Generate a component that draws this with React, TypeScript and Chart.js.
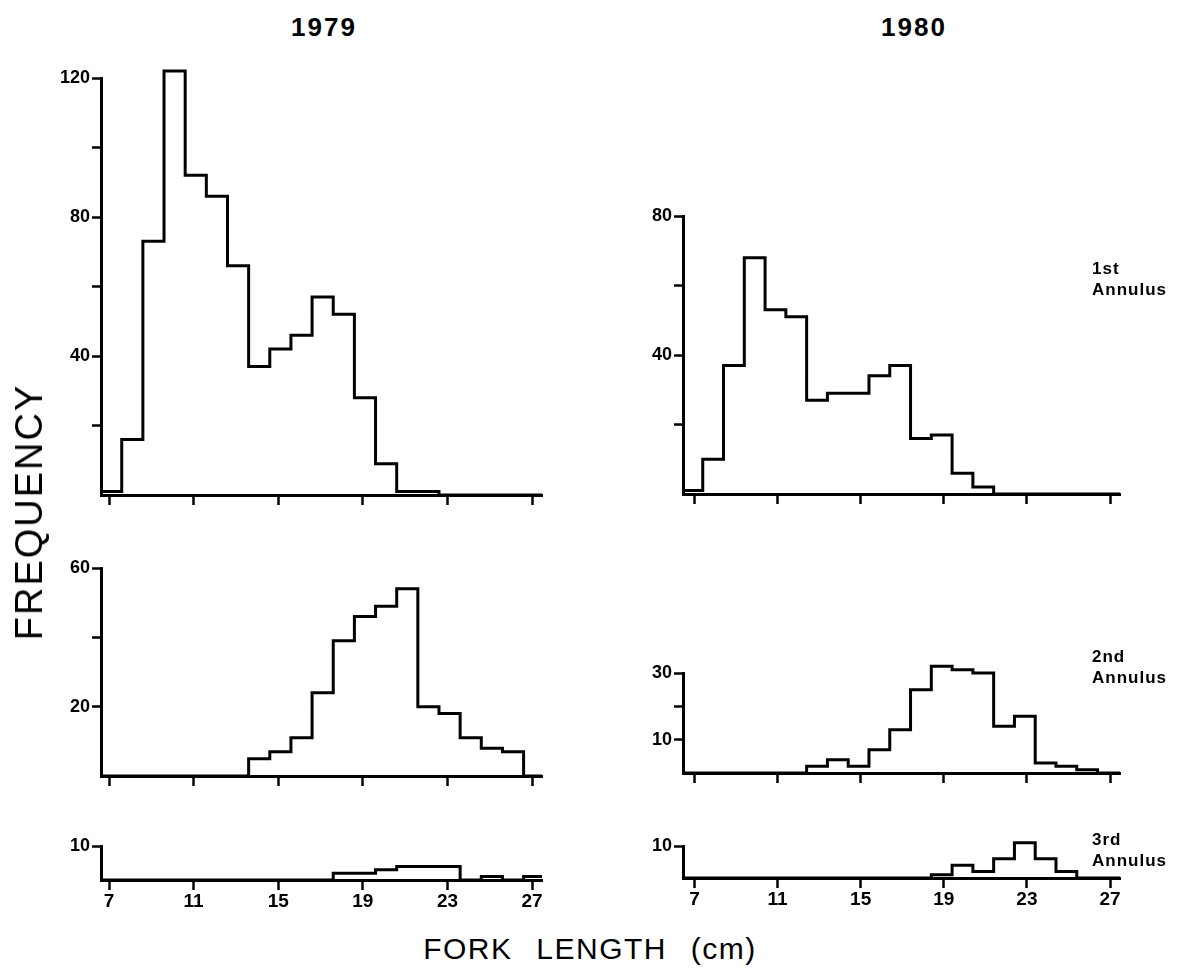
import React, { useEffect, useRef } from "react";
import { Chart, registerables } from "chart.js";

Chart.register(...registerables);

const FONT = "'Liberation Sans', Arial, Helvetica, sans-serif";

// Lower edges of the 1-cm fork-length classes (cm)
const BINS_1979 = [6.6, 7.6, 8.6, 9.6, 10.6, 11.6, 12.6, 13.6, 14.6, 15.6, 16.6, 17.6, 18.6, 19.6, 20.6, 21.6, 22.6, 23.6, 24.6, 25.6, 26.6];
const BINS_1980 = [6.4, 7.4, 8.4, 9.4, 10.4, 11.4, 12.4, 13.4, 14.4, 15.4, 16.4, 17.4, 18.4, 19.4, 20.4, 21.4, 22.4, 23.4, 24.4, 25.4, 26.4];

// Frequencies per class, by year and annulus count
const FREQ_1979_1ST = [1, 16, 73, 122, 92, 86, 66, 37, 42, 46, 57, 52, 28, 9, 1, 1, 0, 0, 0, 0, 0];
const FREQ_1979_2ND = [0, 0, 0, 0, 0, 0, 0, 5, 7, 11, 24, 39, 46, 49, 54, 20, 18, 11, 8, 7, 0];
const FREQ_1979_3RD = [0, 0, 0, 0, 0, 0, 0, 0, 0, 0, 0, 2, 2, 3, 4, 4, 4, 0, 1, 0, 1];
const FREQ_1980_1ST = [1, 10, 37, 68, 53, 51, 27, 29, 29, 34, 37, 16, 17, 6, 2, 0, 0, 0, 0, 0, 0];
const FREQ_1980_2ND = [0, 0, 0, 0, 0, 0, 2, 4, 2, 7, 13, 25, 32, 31, 30, 14, 17, 3, 2, 1, 0];
const FREQ_1980_3RD = [0, 0, 0, 0, 0, 0, 0, 0, 0, 0, 0, 0, 1, 4, 2, 6, 11, 6, 2, 0, 0];

// Axis ticks
const X_TICKS = [7, 11, 15, 19, 23, 27];
const Y_TICKS_1979_1ST = [20, 40, 60, 80, 100, 120];
const Y_LABELS_1979_1ST = [40, 80, 120];
const Y_TICKS_1979_2ND = [20, 40, 60];
const Y_LABELS_1979_2ND = [20, 60];
const Y_TICKS_3RD = [10];
const Y_LABELS_3RD = [10];
const Y_TICKS_1980_1ST = [20, 40, 60, 80];
const Y_LABELS_1980_1ST = [40, 80];
const Y_TICKS_1980_2ND = [10, 20, 30];
const Y_LABELS_1980_2ND = [10, 30];

const YEARS = ["1979", "1980"];
const ANNULUS_LABELS = [
  ["1st", "Annulus"],
  ["2nd", "Annulus"],
  ["3rd", "Annulus"],
];

// Panel frame geometry (page pixels)
const Y_AXIS_W = 64;
const X_AXIS_H = 34;
const PAD_T = 14;
const PAD_R = 6;

type PanelSpec = {
  left: number;
  right: number;
  top: number;
  bottom: number;
  xMin: number;
  xMax: number;
  yMax: number;
  yTicks: number[];
  yLabels: number[];
  showXLabels: boolean;
  edges: number[];
  values: number[];
};

const LEFT_COL = { left: 101, right: 542, xMin: 6.62, xMax: 27.47 };
const RIGHT_COL = { left: 682.5, right: 1120, xMin: 6.45, xMax: 27.48 };

const PANELS: PanelSpec[] = [
  { ...LEFT_COL, top: 78, bottom: 495, yMax: 120, yTicks: Y_TICKS_1979_1ST, yLabels: Y_LABELS_1979_1ST, showXLabels: false, edges: BINS_1979, values: FREQ_1979_1ST },
  { ...LEFT_COL, top: 568, bottom: 776, yMax: 60, yTicks: Y_TICKS_1979_2ND, yLabels: Y_LABELS_1979_2ND, showXLabels: false, edges: BINS_1979, values: FREQ_1979_2ND },
  { ...LEFT_COL, top: 846, bottom: 880, yMax: 10, yTicks: Y_TICKS_3RD, yLabels: Y_LABELS_3RD, showXLabels: true, edges: BINS_1979, values: FREQ_1979_3RD },
  { ...RIGHT_COL, top: 216, bottom: 494, yMax: 80, yTicks: Y_TICKS_1980_1ST, yLabels: Y_LABELS_1980_1ST, showXLabels: false, edges: BINS_1980, values: FREQ_1980_1ST },
  { ...RIGHT_COL, top: 673, bottom: 773, yMax: 30, yTicks: Y_TICKS_1980_2ND, yLabels: Y_LABELS_1980_2ND, showXLabels: false, edges: BINS_1980, values: FREQ_1980_2ND },
  { ...RIGHT_COL, top: 846, bottom: 878, yMax: 10, yTicks: Y_TICKS_3RD, yLabels: Y_LABELS_3RD, showXLabels: true, edges: BINS_1980, values: FREQ_1980_3RD },
];

function Panel({ spec }: { spec: PanelSpec }) {
  const ref = useRef<HTMLCanvasElement>(null);
  const width = Y_AXIS_W + (spec.right - spec.left) + PAD_R;
  const height = PAD_T + (spec.bottom - spec.top) + X_AXIS_H;

  useEffect(() => {
    if (!ref.current) return;
    // Each class is held at its frequency from its lower edge to the next edge
    const points = spec.edges.map((e, i) => ({ x: e, y: spec.values[i] }));
    points.push({ x: spec.xMax, y: spec.values[spec.values.length - 1] });

    const chart = new Chart(ref.current, {
      type: "line",
      data: {
        datasets: [
          {
            data: points,
            stepped: "before",
            borderColor: "#000",
            borderWidth: 3,
            pointRadius: 0,
            fill: false,
            clip: false,
            borderJoinStyle: "miter",
            borderCapStyle: "butt",
          } as any,
        ],
      },
      options: {
        animation: false,
        responsive: false,
        events: [],
        layout: { padding: { top: PAD_T, right: PAD_R, left: 0, bottom: 0 } },
        plugins: { legend: { display: false }, tooltip: { enabled: false } },
        scales: {
          x: {
            type: "linear",
            min: spec.xMin,
            max: spec.xMax,
            afterBuildTicks: (s: any) => {
              s.ticks = X_TICKS.map((v) => ({ value: v }));
            },
            afterFit: (s: any) => {
              s.height = X_AXIS_H;
            },
            ticks: {
              display: spec.showXLabels,
              color: "#000",
              font: { family: FONT, size: 19, weight: "bold" },
              padding: 0,
              maxRotation: 0,
              autoSkip: false,
            },
            grid: {
              drawOnChartArea: false,
              drawTicks: true,
              tickLength: 10,
              tickWidth: 2.5,
              tickColor: "#000",
            },
            border: { display: true, width: 3, color: "#000" },
          },
          y: {
            type: "linear",
            min: 0,
            max: spec.yMax,
            afterBuildTicks: (s: any) => {
              s.ticks = spec.yTicks.map((v) => ({ value: v }));
            },
            afterFit: (s: any) => {
              s.width = Y_AXIS_W;
            },
            ticks: {
              color: "#000",
              font: { family: FONT, size: 18, weight: "bold" },
              padding: 2,
              callback: (v: any) => (spec.yLabels.includes(Number(v)) ? String(v) : ""),
            },
            grid: {
              drawOnChartArea: false,
              drawTicks: true,
              tickLength: 9,
              tickWidth: 2.5,
              tickColor: "#000",
            },
            border: { display: true, width: 3, color: "#000" },
          },
        },
      } as any,
    });
    return () => chart.destroy();
  }, [spec]);

  return (
    <canvas
      ref={ref}
      width={width}
      height={height}
      style={{
        position: "absolute",
        left: spec.left - Y_AXIS_W,
        top: spec.top - PAD_T,
        width,
        height,
      }}
    />
  );
}

const textBase: React.CSSProperties = {
  position: "absolute",
  fontFamily: FONT,
  color: "#000",
  whiteSpace: "nowrap",
  lineHeight: 1,
};

export default function App() {
  return (
    <div style={{ position: "absolute", left: 0, top: 0, width: 1180, height: 975, background: "#fff", overflow: "hidden" }}>
      {PANELS.map((p, i) => (
        <Panel key={i} spec={p} />
      ))}

      <div style={{ ...textBase, left: 324, top: 27, transform: "translate(-50%, -50%)", fontSize: 26, fontWeight: "bold", letterSpacing: 2 }}>
        {YEARS[0]}
      </div>
      <div style={{ ...textBase, left: 914, top: 27, transform: "translate(-50%, -50%)", fontSize: 26, fontWeight: "bold", letterSpacing: 2 }}>
        {YEARS[1]}
      </div>

      <div
        style={{
          ...textBase,
          left: 29,
          top: 512,
          transform: "translate(-50%, -50%) rotate(-90deg)",
          fontSize: 38,
          letterSpacing: 2,
        }}
      >
        FREQUENCY
      </div>

      <div
        style={{
          ...textBase,
          left: 590,
          top: 949,
          transform: "translate(-50%, -50%)",
          fontSize: 30,
          letterSpacing: 1.5,
          wordSpacing: 14,
        }}
      >
        FORK LENGTH (cm)
      </div>

      {ANNULUS_LABELS.map((lines, i) => (
        <div
          key={i}
          style={{
            ...textBase,
            left: 1092,
            top: [258, 646, 829][i],
            fontSize: 17,
            fontWeight: "bold",
            letterSpacing: 1,
            lineHeight: "21px",
          }}
        >
          {lines[0]}
          <br />
          {lines[1]}
        </div>
      ))}
    </div>
  );
}
